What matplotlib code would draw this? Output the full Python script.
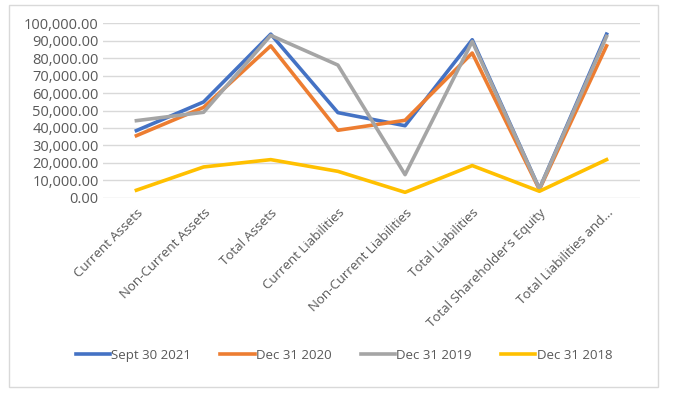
import matplotlib
matplotlib.use('Agg')
import matplotlib.pyplot as plt
from matplotlib.patches import Rectangle
from matplotlib.ticker import FuncFormatter

# categories and series
categories = ['Current Assets', 'Non-Current Assets', 'Total Assets', 'Current Liabilities',
              'Non-Current Liabilities', 'Total Liabilities', 'Total Shareholder\u2019s Equity',
              'Total Liabilities and...']
sept_2021 = [38500, 54900, 93700, 48800, 41300, 90500, 5200, 93700]
dec_2020 = [35600, 51800, 87000, 38700, 44400, 82900, 4800, 87000]
dec_2019 = [44200, 49000, 93000, 76000, 13300, 89500, 5100, 92400]
dec_2018 = [4400, 17700, 21900, 15200, 3200, 18500, 3800, 21900]

series_names = ['Sept 30 2021', 'Dec 31 2020', 'Dec 31 2019', 'Dec 31 2018']
colors = ['#4472C4', '#ED7D31', '#A5A5A5', '#FFC000']

plt.rcParams['font.family'] = ['Open Sans', 'DejaVu Sans']

fig = plt.figure(figsize=(6.81, 3.99), dpi=100)
ax = fig.add_axes([0.151, 0.504, 0.789, 0.438])

x = list(range(len(categories)))
for vals, name, c in zip([sept_2021, dec_2020, dec_2019, dec_2018], series_names, colors):
    ax.plot(x, vals, color=c, lw=2.6, label=name, solid_joinstyle='round')

ax.set_xlim(-0.5, len(categories) - 0.5)
ax.set_ylim(0, 100000)
ax.set_yticks(range(0, 100001, 10000))
ax.yaxis.set_major_formatter(FuncFormatter(lambda v, p: '{:,.2f}'.format(v)))
ax.set_xticks(x)
ax.set_xticklabels(categories, rotation=45, ha='right', rotation_mode='anchor')
ax.tick_params(length=0, colors='#595959', labelsize=9.5)
ax.tick_params(axis='y', labelsize=10.5, pad=3)
ax.tick_params(axis='x', pad=6)
ax.grid(axis='y', color='#D9D9D9', lw=1)
ax.set_axisbelow(True)
for s in ax.spines.values():
    s.set_visible(False)

fig.legend(loc='center', bbox_to_anchor=(0.505, 0.11), ncol=4, frameon=False,
           handlelength=2.6, columnspacing=2.2, handletextpad=0.1,
           prop={'size': 9.5}, labelcolor='#595959')

# chart border
fig.patches.append(Rectangle((9 / 681, 1 - 387 / 399), 649 / 681, 382 / 399,
                             transform=fig.transFigure, fill=False,
                             edgecolor='#D9D9D9', lw=1))

fig.savefig('out.png', dpi=100)
